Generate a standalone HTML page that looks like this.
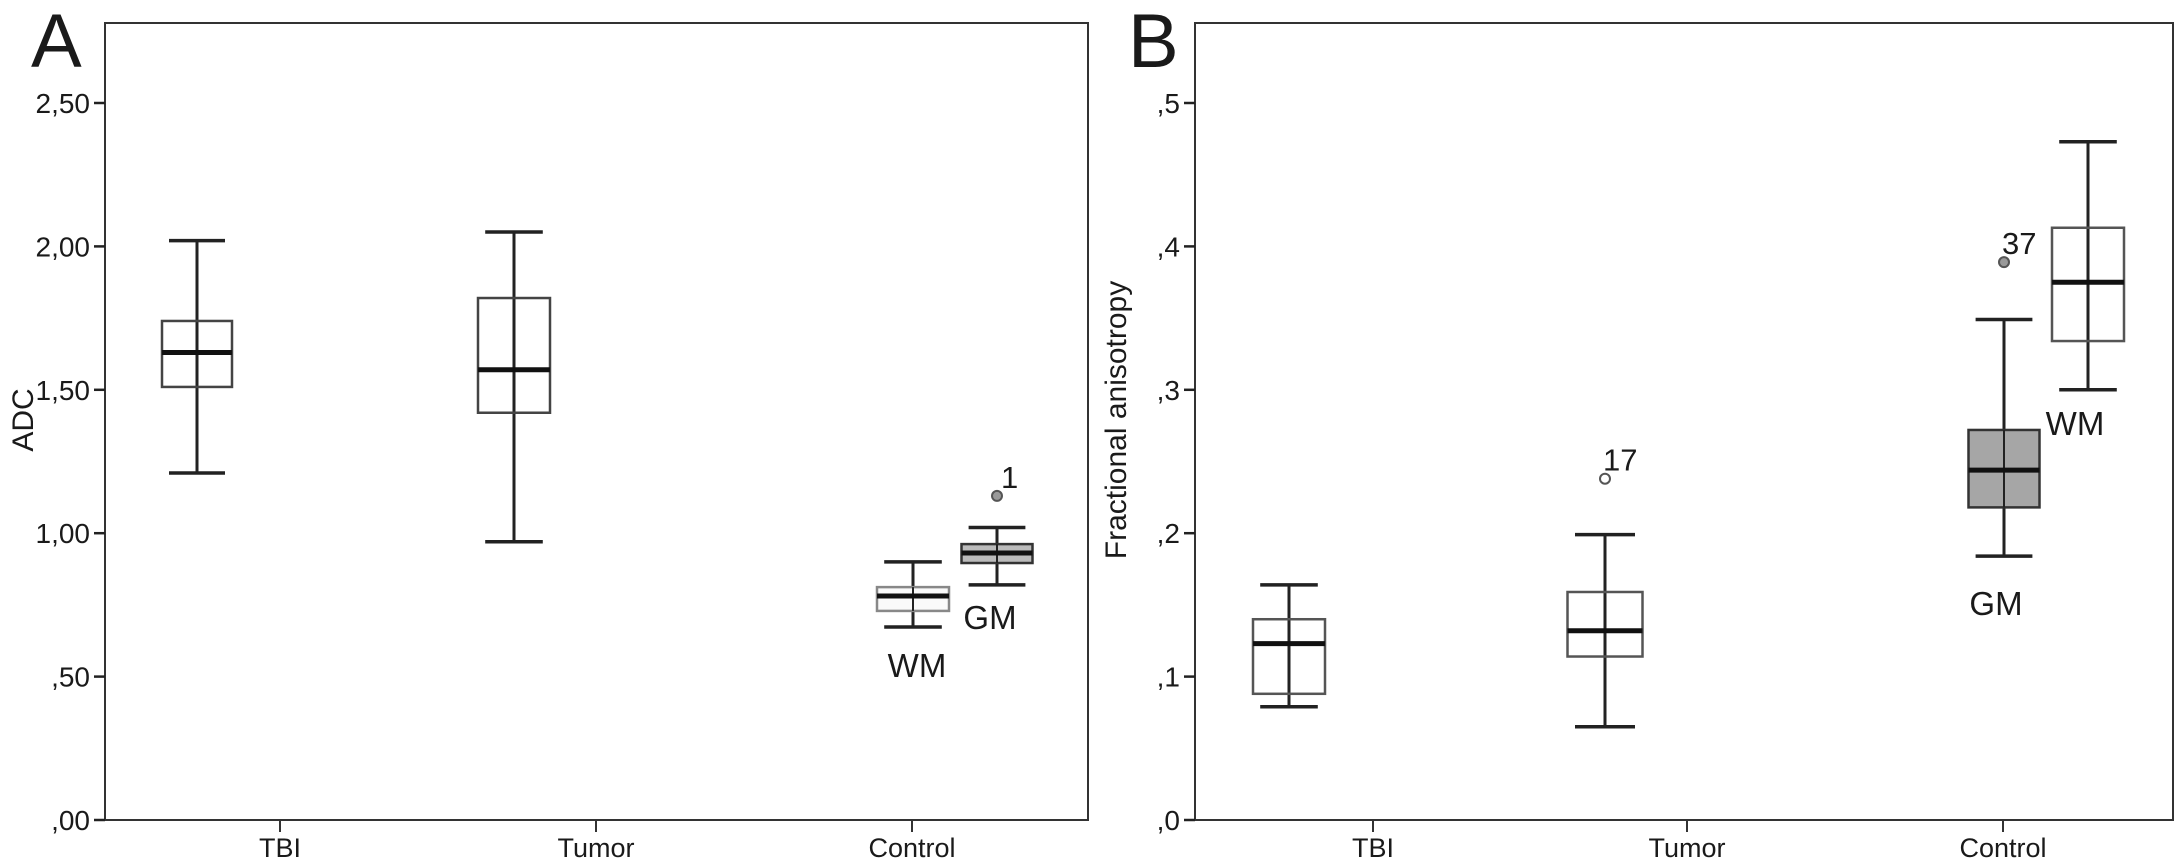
<!DOCTYPE html>
<html><head><meta charset="utf-8"><style>
html,body{margin:0;padding:0;background:#fff;width:2183px;height:865px;overflow:hidden}
svg{display:block}
text{font-family:"Liberation Sans",sans-serif;fill:#1a1a1a}
</style></head><body>
<svg id="fig" width="2183" height="865"></svg>
<script>
const categories=["TBI","Tumor","Control"];
// Panel A (ADC): [min, q1, median, q3, max]
const adcTBI=[1.21,1.51,1.63,1.74,2.02];
const adcTumor=[0.97,1.42,1.57,1.82,2.05];
const adcWM=[0.673,0.729,0.781,0.812,0.90];
const adcGM=[0.82,0.896,0.931,0.962,1.02];
const adcOutlier=[1.13];
const adcOutlierLabel=["1"];
const adcTicks=[0,0.5,1,1.5,2,2.5];
const adcTickLabels=[",00",",50","1,00","1,50","2,00","2,50"];
// Panel B (FA)
const faTBI=[0.079,0.088,0.123,0.140,0.164];
const faTumor=[0.065,0.114,0.132,0.159,0.199];
const faGM=[0.184,0.218,0.244,0.272,0.349];
const faWM=[0.300,0.334,0.375,0.413,0.473];
const faTumorOutlier=[0.238];
const faGMOutlier=[0.389];
const faTicks=[0,0.1,0.2,0.3,0.4,0.5];
const faTickLabels=[",0",",1",",2",",3",",4",",5"];

const NS="http://www.w3.org/2000/svg";
const svg=document.getElementById('fig');
function mk(tag,attrs,parent){const e=document.createElementNS(NS,tag);for(const k in attrs)e.setAttribute(k,attrs[k]);(parent||svg).appendChild(e);return e;}
function txt(s,attrs,parent){const e=mk('text',attrs,parent);e.textContent=s;return e;}

function panel(cfg){
  const g=mk('g',{});
  
  
  const y=v=>cfg.y0-(v-cfg.vmin)/(cfg.vmax-cfg.vmin)*(cfg.y0-cfg.ytop);
  const fr=mk('rect',{x:cfg.x0,y:23,width:cfg.x1-cfg.x0,height:cfg.y0-23,fill:'none',stroke:'#333','stroke-width':2},g);
  
  
  cfg.ticks.forEach((t,i)=>{
    const l=mk('line',{x1:cfg.x0-11,x2:cfg.x0,y1:y(t),y2:y(t),stroke:'#222','stroke-width':2.5},g);
    
    
    const tl=txt(cfg.tickLabels[i],{x:cfg.x0-15,y:y(t)+10,'font-size':28,'text-anchor':'end'},g);
    
    
  });
  categories.forEach((c,i)=>{
    const cx=cfg.catX[i];
    const l=mk('line',{x1:cx,x2:cx,y1:cfg.y0,y2:cfg.y0+12,stroke:'#333','stroke-width':2},g);
    
    
    const tl=txt(c,{x:cx,y:cfg.y0+37,'font-size':27,'text-anchor':'middle'},g);
    
    
  });
  const at=txt(cfg.title,{x:0,y:0,'font-size':30,'text-anchor':'middle',transform:`translate(${cfg.titleX},420) rotate(-90)`},g);
  
  
  const pl=txt(cfg.letter,{x:cfg.letterX,y:67,'font-size':76},g);
  
  
  cfg.boxes.forEach(b=>{
    const bg=mk('g',{},g);
    
    
    const d=b.d,w=b.w,cx=b.cx,cap=w*0.4;
    mk('line',{x1:cx,x2:cx,y1:y(d[0]),y2:y(d[4]),stroke:'#222','stroke-width':3},bg);
    mk('rect',{x:cx-w/2,y:y(d[3]),width:w,height:y(d[1])-y(d[3]),fill:b.fill,stroke:b.stroke,'stroke-width':2.5},bg);
    if(b.fill!=='none'){mk('line',{x1:cx,x2:cx,y1:y(d[3]),y2:y(d[1]),stroke:'#222','stroke-width':2},bg);}
    mk('line',{x1:cx-cap,x2:cx+cap,y1:y(d[0]),y2:y(d[0]),stroke:'#222','stroke-width':3.5},bg);
    mk('line',{x1:cx-cap,x2:cx+cap,y1:y(d[4]),y2:y(d[4]),stroke:'#222','stroke-width':3.5},bg);
    mk('line',{x1:cx-w/2,x2:cx+w/2,y1:y(d[2]),y2:y(d[2]),stroke:'#111','stroke-width':5},bg);
  });
  cfg.outliers.forEach(o=>{
    const c=mk('circle',{cx:o.cx,cy:y(o.v),r:5,fill:o.fill,stroke:'#555','stroke-width':2},g);
    
    
    const t=txt(o.label,{x:o.cx+o.dx,y:y(o.v)-8,'font-size':31},g);
    
    
  });
  cfg.notes.forEach(n=>{
    const t=txt(n.s,{x:n.x,y:n.y,'font-size':33,'text-anchor':'middle'},g);
    
    
  });
}

panel({name:'panel-a-adc',x0:105,x1:1088,y0:820,ytop:103,vmin:0,vmax:2.5,
  ticks:adcTicks,tickLabels:adcTickLabels,catX:[280,596,912],title:'ADC',titleX:33,letter:'A',letterX:31,
  boxes:[{name:'box-tbi',cx:197,w:70,d:adcTBI,fill:'none',stroke:'#444'},
         {name:'box-tumor',cx:514,w:72,d:adcTumor,fill:'none',stroke:'#444'},
         {name:'box-control-wm',cx:913,w:72,d:adcWM,fill:'#fafafa',stroke:'#888'},
         {name:'box-control-gm',cx:997,w:71,d:adcGM,fill:'#bbb',stroke:'#333'}],
  outliers:[{cx:997,v:adcOutlier[0],label:adcOutlierLabel[0],fill:'#999',dx:4}],
  notes:[{s:'WM',x:917,y:677},{s:'GM',x:990,y:629}]});

panel({name:'panel-b-fa',x0:1195,x1:2173,y0:820,ytop:103,vmin:0,vmax:0.5,
  ticks:faTicks,tickLabels:faTickLabels,catX:[1373,1687,2003],title:'Fractional anisotropy',titleX:1126,letter:'B',letterX:1128,
  boxes:[{name:'box-tbi',cx:1289,w:72,d:faTBI,fill:'none',stroke:'#555'},
         {name:'box-tumor',cx:1605,w:75,d:faTumor,fill:'none',stroke:'#555'},
         {name:'box-control-gm',cx:2004,w:71,d:faGM,fill:'#a6a6a6',stroke:'#333'},
         {name:'box-control-wm',cx:2088,w:72,d:faWM,fill:'none',stroke:'#555'}],
  outliers:[{cx:1605,v:faTumorOutlier[0],label:'17',fill:'#fff',dx:-2},
            {cx:2004,v:faGMOutlier[0],label:'37',fill:'#999',dx:-2}],
  notes:[{s:'WM',x:2075,y:435},{s:'GM',x:1996,y:615}]});
</script>
</body></html>
